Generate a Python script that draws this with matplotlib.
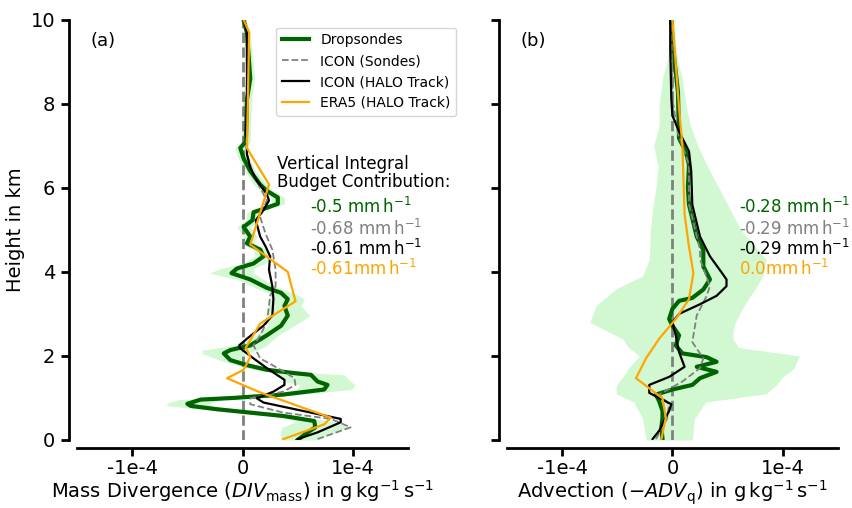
import numpy as np
import matplotlib
matplotlib.use("Agg")
import matplotlib.pyplot as plt

# --- (a) mass divergence, values in 1e-4 g/kg/s, heights in km ---
h_sonde_a = [0.0, 0.18, 0.3, 0.45, 0.57, 0.65, 0.73, 0.81, 0.86, 0.96, 1.0, 1.08, 1.2, 1.31, 1.39,
             1.55, 1.59, 1.67, 1.78, 1.9, 2.06, 2.14, 2.25, 2.49, 2.72, 2.96, 3.19, 3.35, 3.5, 3.62,
             3.82, 3.97, 4.08, 4.2, 4.37, 4.53, 4.68, 4.84, 5.07, 5.23, 5.42, 5.5, 5.62, 5.77, 5.93,
             6.08, 6.4, 6.7, 6.95, 7.1, 8.1, 8.6, 9.7, 10.0]
div_sonde = [0.5, 0.59, 0.66, 0.65, 0.37, 0.07, -0.23, -0.47, -0.5, -0.38, -0.08, 0.37, 0.74, 0.77, 0.68,
             0.62, 0.47, 0.22, 0.04, -0.11, -0.17, -0.11, 0.07, 0.22, 0.35, 0.41, 0.38, 0.41, 0.35, 0.22,
             0.07, -0.1, -0.05, 0.1, 0.19, 0.16, 0.04, 0.07, 0.01, 0.09, 0.1, 0.19, 0.32, 0.32, 0.22,
             0.16, 0.07, 0.01, -0.02, 0.03, 0.04, 0.07, 0.04, 0.01]
div_spread = [0.15, 0.25, 0.3, 0.15, 0.1, 0.1, 0.15, 0.2, 0.2, 0.2, 0.15, 0.15, 0.25, 0.25, 0.3,
              0.3, 0.2, 0.1, 0.1, 0.1, 0.2, 0.25, 0.15, 0.1, 0.12, 0.2, 0.15, 0.15, 0.12, 0.1,
              0.12, 0.2, 0.15, 0.1, 0.08, 0.06, 0.06, 0.06, 0.06, 0.06, 0.06, 0.06, 0.06, 0.06, 0.06,
              0.06, 0.05, 0.05, 0.05, 0.04, 0.04, 0.04, 0.03, 0.02]

h_icon_sonde_a = [0.02, 0.3, 0.5, 0.65, 0.85, 0.99, 1.15, 1.31, 1.47, 1.71, 1.94, 2.25, 2.49, 2.8, 3.19,
                  3.43, 3.66, 4.05, 4.53, 4.9, 5.3, 5.7, 6.0, 6.4, 6.8, 7.3, 8.1, 9.7, 10.0]
div_icon_sonde = [0.68, 0.98, 0.8, 0.37, 0.07, 0.07, 0.37, 0.48, 0.47, 0.32, 0.16, 0.1, 0.16, 0.22, 0.24,
                  0.25, 0.3, 0.3, 0.27, 0.21, 0.16, 0.22, 0.16, 0.09, 0.04, 0.03, 0.04, 0.04, 0.01]

h_icon_halo_a = [0.02, 0.18, 0.42, 0.5, 0.65, 0.89, 0.99, 1.15, 1.31, 1.43, 1.71, 1.94, 2.18, 2.25, 2.41,
                 2.72, 2.96, 3.35, 3.66, 4.05, 4.37, 4.6, 4.84, 5.23, 5.47, 5.7, 5.85, 6.17, 6.48, 6.8,
                 7.1, 7.3, 8.1, 9.7, 10.0]
div_icon_halo = [0.5, 0.68, 0.89, 0.89, 0.62, 0.19, 0.13, 0.28, 0.38, 0.38, 0.22, 0.1, -0.02, -0.03, 0.04,
                 0.19, 0.27, 0.28, 0.27, 0.24, 0.25, 0.21, 0.16, 0.12, 0.19, 0.24, 0.22, 0.13, 0.07, 0.04,
                 0.04, 0.03, 0.04, 0.04, 0.01]

h_era5_a = [0.02, 0.37, 0.53, 1.13, 1.47, 1.67, 1.97, 2.2, 2.77, 3.3, 4.0, 4.65, 6.08, 6.95, 9.7, 10.0]
div_era5 = [0.37, 0.74, 0.8, 0.16, -0.14, 0.01, 0.07, 0.03, 0.16, 0.48, 0.41, 0.07, 0.24, 0.04, 0.06, 0.01]

# --- (b) advection ---
h_sonde_b = [0.02, 0.3, 0.53, 0.69, 0.92, 1.08, 1.2, 1.31, 1.47, 1.62, 1.74, 1.86, 1.97, 2.06, 2.25,
             2.49, 2.72, 2.88, 3.12, 3.31, 3.38, 3.58, 3.82, 4.13, 4.52, 4.84, 5.6, 6.0, 6.55, 6.87,
             7.18, 8.28, 9.45, 10.0]
adv_sonde = [-0.09, -0.1, -0.09, -0.09, -0.12, -0.15, 0.0, 0.18, 0.25, 0.4, 0.22, 0.4, 0.31, 0.09, 0.03,
             0.06, 0.0, -0.03, 0.0, 0.06, 0.18, 0.28, 0.34, 0.28, 0.28, 0.22, 0.15, 0.14, 0.15, 0.12,
             0.06, 0.05, 0.0, -0.01]

h_shade_b = [0.0, 0.5, 0.9, 1.1, 1.3, 1.5, 1.7, 2.0, 2.2, 2.4, 2.6, 2.8, 3.2, 3.6, 3.9, 4.3, 5.0, 5.5,
             6.0, 6.5, 7.0, 7.5, 8.0, 8.6, 9.0, 9.4, 10.0]
adv_lo = [-0.24, -0.27, -0.35, -0.51, -0.51, -0.45, -0.4, -0.3, -0.4, -0.45, -0.6, -0.75, -0.69, -0.51,
          -0.27, -0.21, -0.2, -0.18, -0.15, -0.13, -0.17, -0.12, -0.12, -0.09, -0.05, -0.03, -0.02]
adv_hi = [0.18, 0.2, 0.3, 0.85, 0.94, 1.0, 1.1, 1.15, 0.6, 0.55, 0.55, 0.57, 0.65, 0.75, 0.82, 0.85,
          0.62, 0.52, 0.42, 0.32, 0.23, 0.16, 0.12, 0.09, 0.05, 0.03, 0.02]

h_icon_sonde_b = [0.02, 0.5, 0.85, 1.08, 1.39, 1.71, 1.94, 2.33, 2.96, 3.43, 3.66, 4.3, 4.53, 5.6, 6.55,
                  7.3, 8.1, 10.0]
adv_icon_sonde = [-0.15, -0.05, -0.03, -0.12, 0.09, 0.25, 0.28, 0.18, 0.22, 0.31, 0.34, 0.25, 0.25, 0.15,
                  0.15, 0.05, 0.0, -0.01]

h_icon_halo_b = [0.02, 0.22, 0.69, 0.85, 1.12, 1.31, 1.5, 1.74, 2.09, 2.49, 2.8, 3.0, 3.23, 3.43, 3.66,
                 3.82, 3.97, 4.37, 4.84, 5.6, 6.4, 6.87, 7.34, 7.72, 8.12, 9.3, 10.0]
adv_icon_halo = [-0.18, -0.12, -0.03, -0.01, -0.21, -0.21, -0.03, 0.11, 0.06, 0.03, 0.0, 0.06, 0.25, 0.4,
                 0.49, 0.49, 0.45, 0.34, 0.25, 0.18, 0.17, 0.15, 0.06, 0.0, -0.01, -0.02, -0.02]

h_era5_b = [0.02, 0.53, 0.99, 1.47, 1.94, 2.41, 2.88, 3.35, 3.97, 4.6, 5.37, 7.02, 7.9, 10.0]
adv_era5 = [-0.1, -0.06, -0.09, -0.33, -0.24, -0.12, 0.03, 0.15, 0.19, 0.15, 0.11, 0.09, 0.06, 0.0]

labels = ["Dropsondes", "ICON (Sondes)", "ICON (HALO Track)", "ERA5 (HALO Track)"]
colors = ["darkgreen", "grey", "black", "orange"]
budget_a = ["-0.5 mm", "-0.68 mm", "-0.61 mm", "-0.61mm"]
budget_b = ["-0.28 mm", "-0.29 mm", "-0.29 mm", "0.0mm"]

SCALE = 1e-4
plt.rcParams['font.family'] = ['DejaVu Sans']

fig = plt.figure(figsize=(8.52, 5.08), dpi=100)
ax1 = fig.add_axes([0.0904, 0.134, 0.3885, 0.827])
ax2 = fig.add_axes([0.595, 0.134, 0.3885, 0.827])


def profile(ax, x, h, color, lw, ls="-", label=None):
    ax.plot(np.array(x) * SCALE, h, color=color, lw=lw, ls=ls, label=label)


def style(ax):
    ax.set_xlim(-1.5e-4, 1.5e-4)
    ax.set_ylim(0, 10)
    for s in ["top", "right"]:
        ax.spines[s].set_visible(False)
    for s in ["left", "bottom"]:
        ax.spines[s].set_position(("outward", 6))
        ax.spines[s].set_linewidth(2)
    ax.set_xticks([-1e-4, 0, 1e-4])
    ax.set_xticklabels(["-1e-4", "0", "1e-4"])
    ax.set_yticks([0, 2, 4, 6, 8, 10])
    ax.tick_params(labelsize=14, width=2, length=6)
    ax.tick_params(axis="x", pad=2)


# panel (a)
ax1.axvline(0, color="grey", ls="--", lw=2)
sa = np.array(div_sonde)
sp = np.array(div_spread)
ax1.fill_betweenx(h_sonde_a, (sa - sp) * SCALE, (sa + sp) * SCALE, color="lightgreen", alpha=0.4, lw=0)
profile(ax1, div_sonde, h_sonde_a, colors[0], 3, label=labels[0])
profile(ax1, div_icon_sonde, h_icon_sonde_a, colors[1], 1.3, ls="--", label=labels[1])
profile(ax1, div_icon_halo, h_icon_halo_a, colors[2], 1.6, label=labels[2])
profile(ax1, div_era5, h_era5_a, colors[3], 1.6, label=labels[3])
style(ax1)
ax1.set_ylabel("Height in km", fontsize=14)
ax1.set_xlabel(r"Mass Divergence ($DIV_\mathrm{mass}$) in $\mathrm{g\,kg^{-1}\,s^{-1}}$", fontsize=14, labelpad=0)
ax1.text(0.04, 0.97, "(a)", transform=ax1.transAxes, fontsize=13, va="top")
ax1.text(0.31e-4, 6.35, "Vertical Integral\nBudget Contribution:", fontsize=12, va="center", linespacing=1.0)
ax1.legend(loc="upper left", bbox_to_anchor=(0.58, 0.998), fontsize=10, handlelength=2.0)

# panel (b)
ax2.axvline(0, color="grey", ls="--", lw=2)
ax2.fill_betweenx(h_shade_b, np.array(adv_lo) * SCALE, np.array(adv_hi) * SCALE,
                  color="lightgreen", alpha=0.4, lw=0)
profile(ax2, adv_sonde, h_sonde_b, colors[0], 3)
profile(ax2, adv_icon_sonde, h_icon_sonde_b, colors[1], 1.3, ls="--")
profile(ax2, adv_icon_halo, h_icon_halo_b, colors[2], 1.6)
profile(ax2, adv_era5, h_era5_b, colors[3], 1.6)
style(ax2)
ax2.set_yticklabels([])
ax2.set_xlabel(r"Advection ($-ADV_\mathrm{q}$) in $\mathrm{g\,kg^{-1}\,s^{-1}}$", fontsize=14, labelpad=0)
ax2.text(0.04, 0.97, "(b)", transform=ax2.transAxes, fontsize=13, va="top")

text_h = [5.54, 5.02, 4.55, 4.08]
for i in range(4):
    ax1.text(0.61e-4, text_h[i], budget_a[i] + r"$\,\mathrm{h^{-1}}$", color=colors[i], fontsize=12, va="center")
    ax2.text(0.6e-4, text_h[i], budget_b[i] + r"$\,\mathrm{h^{-1}}$", color=colors[i], fontsize=12, va="center")

fig.savefig("out.png", dpi=100)
